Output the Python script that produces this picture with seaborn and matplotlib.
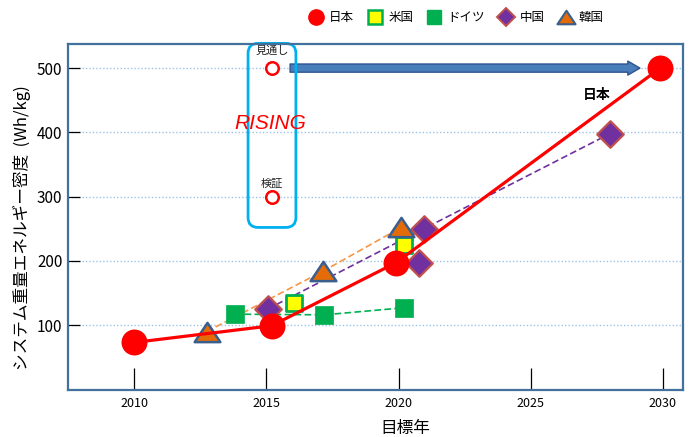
import numpy as np
import pandas as pd
import matplotlib
matplotlib.use("Agg")
import matplotlib.pyplot as plt
import seaborn as sns
from matplotlib.patches import FancyBboxPatch
from matplotlib.lines import Line2D
from matplotlib.path import Path

# ---- data ----
japan_years = [2010.0, 2015.2, 2019.9, 2029.9]
japan_vals = [73, 99, 197, 500]

usa_years = [2016.05, 2020.2]
usa_vals = [134, 224]

germany_years = [2013.8, 2017.2, 2020.2]
germany_vals = [117, 116, 127]

china_years = [2015.05, 2020.77, 2020.96, 2028.0]
china_vals = [125, 197, 250, 398]
china_line_idx = [0, 2, 3]

korea_years = [2012.75, 2017.15, 2020.1]
korea_vals = [90, 184, 252]

rising_years = [2015.22, 2015.22]
rising_vals = [500, 300]
rising_labels = ["見通し", "検証"]

x_ticks = [2010, 2015, 2020, 2025, 2030]
y_ticks = [100, 200, 300, 400, 500]

# ---- style ----
sns.set_theme(style="white")
plt.rcParams["font.family"] = ["Noto Sans CJK JP", "DejaVu Sans"]
plt.rcParams["text.color"] = "black"
plt.rcParams["axes.labelcolor"] = "black"
plt.rcParams["xtick.color"] = "black"
plt.rcParams["ytick.color"] = "black"

fig = plt.figure(figsize=(6.9, 4.37), dpi=100)
ax = fig.add_axes([68/690, 1-390/437, 615/690, 346/437])
ax.set_xlim(2007.5, 2030.76)
ax.set_ylim(-1, 537.5)

RED = "#FF0000"
GREEN = "#00B050"
YELLOW = "#FFFF00"
PURPLE = "#7030A0"
PURPLE_EDGE = "#C0504D"
ORANGE = "#E36C09"
ORANGE_LINE = "#F79646"
TRI_EDGE = "#3B5E8C"

tri = Path([(-1, -0.75), (1, -0.75), (0, 0.75), (-1, -0.75)],
           [Path.MOVETO, Path.LINETO, Path.LINETO, Path.CLOSEPOLY])

df_j = pd.DataFrame({"x": japan_years, "y": japan_vals})
df_u = pd.DataFrame({"x": usa_years, "y": usa_vals})
df_g = pd.DataFrame({"x": germany_years, "y": germany_vals})
df_c = pd.DataFrame({"x": china_years, "y": china_vals})
df_cl = df_c.iloc[china_line_idx]
df_k = pd.DataFrame({"x": korea_years, "y": korea_vals})

# lines
sns.lineplot(data=df_g, x="x", y="y", ax=ax, sort=False, color=GREEN,
             linestyle=(0, (4, 2)), linewidth=1.2, zorder=2)
sns.lineplot(data=df_cl, x="x", y="y", ax=ax, sort=False, color=PURPLE,
             linestyle=(0, (4, 2)), linewidth=1.2, zorder=2)
sns.lineplot(data=df_k, x="x", y="y", ax=ax, sort=False, color=ORANGE_LINE,
             linestyle=(0, (4, 2)), linewidth=1.2, zorder=2)
sns.lineplot(data=df_j, x="x", y="y", ax=ax, sort=False, color=RED,
             linewidth=2.3, zorder=6)

# markers
sns.scatterplot(data=df_g, x="x", y="y", ax=ax, marker="s", s=13**2,
                color=GREEN, edgecolor=GREEN, linewidth=0.5, zorder=3)
sns.scatterplot(data=df_u, x="x", y="y", ax=ax, marker="s", s=12**2,
                color=YELLOW, edgecolor=GREEN, linewidth=2.0, zorder=4)
sns.scatterplot(data=df_c, x="x", y="y", ax=ax, marker="D", s=13.5**2,
                color=PURPLE, edgecolor=PURPLE_EDGE, linewidth=1.6, zorder=4)
sns.scatterplot(data=df_k, x="x", y="y", ax=ax, marker=tri, s=(18.5/2)**2*4,
                color=ORANGE, edgecolor=TRI_EDGE, linewidth=1.8, zorder=5)
sns.scatterplot(data=df_j, x="x", y="y", ax=ax, marker="o", s=18.7**2,
                color=RED, edgecolor=RED, linewidth=0, zorder=7)

# RISING box
box = FancyBboxPatch((2014.31, 252), 2016.12-2014.31, 538.5-252,
                     boxstyle="round,pad=0,rounding_size=0.38",
                     mutation_aspect=41.2, fill=False, edgecolor="#00B0F0",
                     linewidth=2.0, transform=ax.transData, clip_on=False,
                     zorder=8)
ax.add_patch(box)
sns.scatterplot(x=rising_years, y=rising_vals, ax=ax, marker="o", s=9**2,
                facecolor="white", edgecolor=RED, linewidth=1.8, zorder=9)
ax.text(rising_years[0], 527, rising_labels[0], ha="center", va="center",
        fontsize=8, color="#222222", zorder=9)
ax.text(rising_years[1], 319, rising_labels[1], ha="center", va="center",
        fontsize=8, color="#222222", zorder=9)
ax.text(2015.14, 413, "RISING", ha="center", va="center", fontsize=15,
        color=RED, style="italic", family=["Liberation Sans", "DejaVu Sans"],
        zorder=9)

# arrow
ax.annotate("", xy=(2029.13, 500), xytext=(2015.9, 500),
            arrowprops=dict(arrowstyle="simple,head_length=0.62,head_width=0.72,tail_width=0.42",
                            fc="#4A7EBB", ec="#2F528F", lw=1.0,
                            shrinkA=0, shrinkB=0, mutation_scale=14),
            zorder=5)

ax.text(2027.5, 458, "日本", ha="center", va="center", fontsize=10,
        fontweight="bold", color="black", zorder=9)

# axes styling
ax.set_xticks(x_ticks)
ax.set_yticks(y_ticks)
ax.tick_params(axis="x", which="major", bottom=True, direction="in", length=16,
               width=0.9, color="black", labelcolor="black", labelsize=9, pad=5)
ax.tick_params(axis="y", which="major", left=True, direction="in", length=8.5,
               width=0.9, color="black", labelcolor="black", labelsize=11, pad=4)
ax.yaxis.grid(True, linestyle=(0, (1, 1.5)), color="#9DC3E6", linewidth=1.0)
ax.xaxis.grid(False)
ax.set_axisbelow(True)
for sp in ax.spines.values():
    sp.set_color("#41719C")
    sp.set_linewidth(1.6)
    sp.set_zorder(10)

ax.set_xlabel("目標年", fontsize=12, color="black")
ax.xaxis.set_label_coords((405-68)/615, (390-428)/346)
ax.xaxis.label.set_va("center")
ax.set_ylabel("システム重量エネルギー密度  (Wh/kg)", fontsize=12, color="black")
ax.yaxis.set_label_coords((22-68)/615, (390-228)/346)
ax.yaxis.label.set_va("center")

# legend
handles = [
    Line2D([], [], linestyle="none", marker="o", markersize=11,
           markerfacecolor=RED, markeredgecolor=RED),
    Line2D([], [], linestyle="none", marker="s", markersize=9.5,
           markerfacecolor=YELLOW, markeredgecolor=GREEN, markeredgewidth=1.8),
    Line2D([], [], linestyle="none", marker="s", markersize=10,
           markerfacecolor=GREEN, markeredgecolor=GREEN),
    Line2D([], [], linestyle="none", marker="D", markersize=9.5,
           markerfacecolor=PURPLE, markeredgecolor=PURPLE_EDGE, markeredgewidth=1.4),
    Line2D([], [], linestyle="none", marker=tri, markersize=13,
           markerfacecolor=ORANGE, markeredgecolor=TRI_EDGE, markeredgewidth=1.5),
]
labels = ["日本", "米国", "ドイツ", "中国", "韓国"]
fig.legend(handles, labels, loc="center", bbox_to_anchor=(456/690, 1-18/437),
           ncol=5, frameon=False, fontsize=9, handletextpad=0.45,
           columnspacing=1.1, handlelength=1.2)

fig.savefig("out.png", dpi=100)
